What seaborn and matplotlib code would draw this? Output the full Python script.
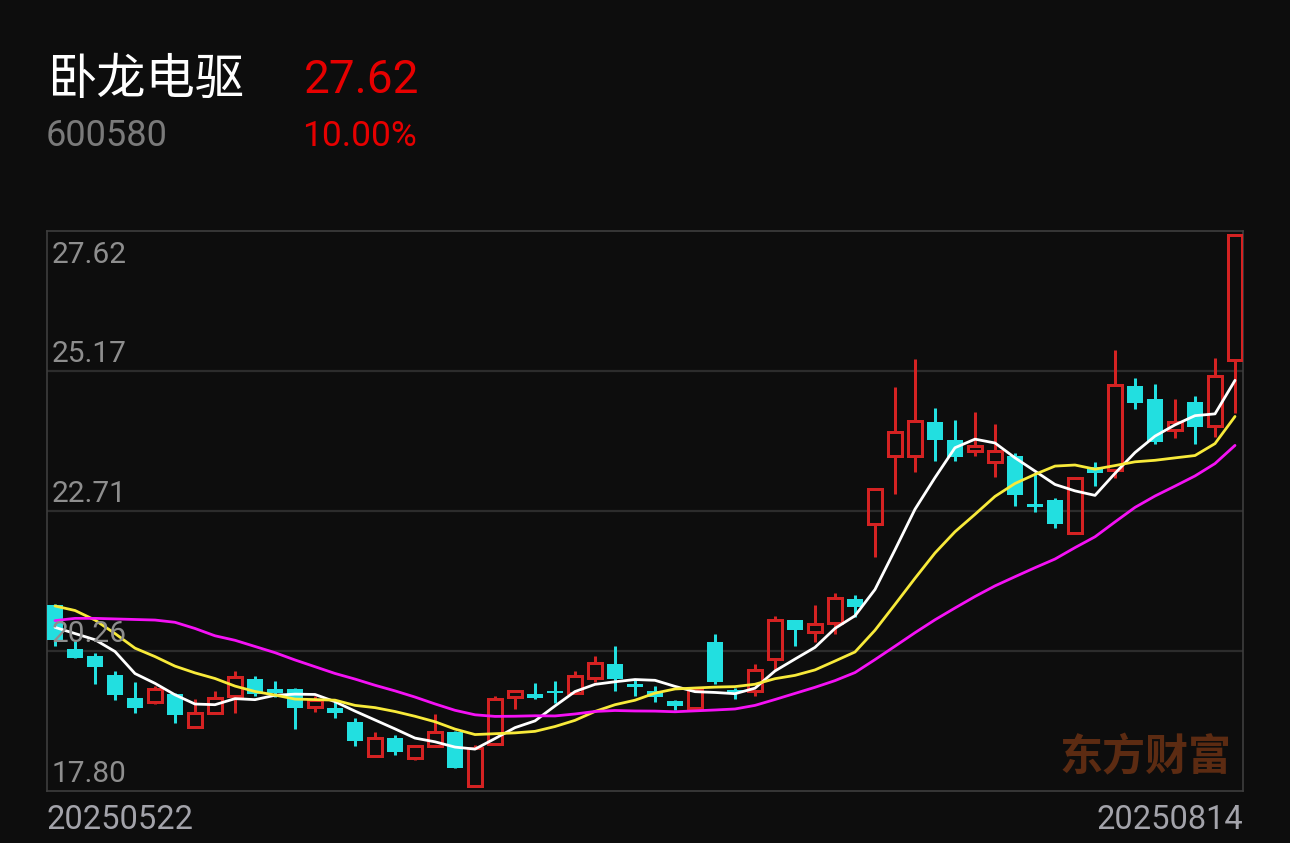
import numpy as np
import pandas as pd
import matplotlib
matplotlib.use("Agg")
import matplotlib.pyplot as plt
import seaborn as sns

# ---------------- data ----------------
stock_name = "卧龙电驱"
stock_code = "600580"
last_price = "27.62"
pct_change = "10.00%"
date_labels = ["20250522", "20250814"]
ytick_labels = ["27.62", "25.17", "22.71", "20.26", "17.80"]
price_hi = 27.62
price_lo = 17.80

opens = [21.04, 20.25, 20.13, 19.79, 19.38, 19.32, 19.45, 18.87, 19.11, 19.41,
         19.73, 19.54, 19.54, 19.23, 19.21, 18.96, 18.36, 18.67, 18.32, 18.53,
         18.77, 17.82, 18.56, 19.40, 19.45, 19.51, 19.48, 19.74, 19.99, 19.63,
         19.50, 19.33, 19.21, 20.38, 19.53, 19.51, 20.08, 20.77, 20.55, 20.71,
         21.14, 22.48, 23.68, 23.68, 24.29, 23.97, 23.77, 23.58, 23.69, 22.83,
         22.91, 22.31, 23.50, 23.44, 24.94, 24.70, 24.15, 24.65, 24.23, 25.40]
closes = [20.41, 20.10, 19.93, 19.44, 19.21, 19.54, 19.08, 19.11, 19.38, 19.75,
          19.45, 19.47, 19.21, 19.35, 19.11, 18.61, 18.68, 18.42, 18.53, 18.78,
          18.14, 18.50, 19.36, 19.50, 19.38, 19.47, 19.78, 20.00, 19.73, 19.58,
          19.40, 19.24, 19.53, 19.66, 19.47, 19.89, 20.77, 20.59, 20.70, 21.16,
          21.01, 23.11, 24.12, 24.31, 23.97, 23.67, 23.87, 23.78, 22.99, 22.79,
          22.48, 23.30, 23.38, 24.95, 24.64, 23.94, 24.30, 24.20, 25.11, 27.62]
highs = [21.06, 20.40, 20.19, 19.87, 19.66, 19.60, 19.47, 19.36, 19.51, 19.86,
         19.78, 19.69, 19.57, 19.42, 19.32, 19.02, 18.78, 18.73, 18.55, 19.09,
         18.80, 18.54, 19.42, 19.50, 19.65, 19.69, 19.86, 20.13, 20.31, 19.70,
         19.60, 19.34, 19.53, 20.53, 19.57, 19.99, 20.85, 20.77, 21.04, 21.26,
         21.22, 23.11, 24.92, 25.41, 24.55, 24.33, 24.48, 24.25, 23.74, 23.38,
         22.95, 23.30, 23.59, 25.57, 25.08, 24.97, 24.70, 24.76, 25.43, 27.62]
lows = [20.30, 20.10, 19.63, 19.35, 19.12, 19.27, 18.94, 18.87, 19.11, 19.12,
        19.41, 19.40, 18.84, 19.13, 19.03, 18.53, 18.34, 18.37, 18.28, 18.51,
        18.14, 17.80, 18.56, 19.18, 19.36, 19.29, 19.48, 19.67, 19.51, 19.41,
        19.32, 19.17, 19.21, 19.63, 19.36, 19.41, 19.88, 20.31, 20.38, 20.53,
        20.82, 21.89, 23.01, 23.40, 23.60, 23.60, 23.69, 23.32, 22.80, 22.69,
        22.40, 22.31, 23.15, 23.29, 24.52, 23.90, 24.00, 23.90, 24.03, 24.46]

# moving-average values at the start of the window (history before 2025-05-22)
ma5_head = [20.64, 20.53, 20.42, 20.21]
ma10_head = [21.02, 20.94, 20.77, 20.53, 20.27, 20.12, 19.95, 19.83, 19.73]
ma20_head = [20.76, 20.80, 20.80, 20.79, 20.78, 20.77, 20.73, 20.62, 20.49, 20.41,
             20.30, 20.19, 20.06, 19.94, 19.82, 19.72, 19.61, 19.51, 19.40]

# ---------------- styling ----------------
BG = "#0d0d0d"
RED = "#d42222"
CYAN = "#22dfe0"
MA_COLORS = {"MA5": "#ffffff", "MA10": "#f8ea3a", "MA20": "#f511f5"}

sns.set_theme(style="dark")
plt.rcParams["font.family"] = ["Roboto", "Noto Sans CJK SC", "DejaVu Sans"]
plt.rcParams["axes.unicode_minus"] = False

W, H = 1290, 843
fig = plt.figure(figsize=(W / 100, H / 100), dpi=100, facecolor=BG)
ax = fig.add_axes([47 / W, 52 / H, 1196 / W, 560 / H])
ax.set_facecolor(BG)

n = len(closes)
x = np.arange(n)
o = np.array(opens); c = np.array(closes); hi = np.array(highs); lo = np.array(lows)
up = c >= o

# moving averages
s = pd.Series(c)
ma5 = s.rolling(5).mean().to_numpy(); ma5[:4] = ma5_head
ma10 = s.rolling(10).mean().to_numpy(); ma10[:9] = ma10_head
ma20 = s.rolling(20).mean().to_numpy(); ma20[:19] = ma20_head
df_ma = pd.concat([
    pd.DataFrame({"idx": x, "value": ma5, "ma": "MA5"}),
    pd.DataFrame({"idx": x, "value": ma10, "ma": "MA10"}),
    pd.DataFrame({"idx": x, "value": ma20, "ma": "MA20"}),
])

# candles
body_lo = np.minimum(o, c)
body_hi = np.maximum(o, c)
body_h = np.maximum(body_hi - body_lo, 0.045)
lw_px = 3 * 72 / 100

# down candles (filled cyan), full wick behind
ax.vlines(x[~up], lo[~up], hi[~up], color=CYAN, linewidth=lw_px, zorder=2)
ax.bar(x[~up], body_h[~up], bottom=body_lo[~up], width=0.83, color=CYAN,
       linewidth=0, zorder=3)
# up candles (hollow red)
ax.vlines(x[up], body_hi[up], hi[up], color=RED, linewidth=lw_px, zorder=2)
ax.vlines(x[up], lo[up], body_lo[up], color=RED, linewidth=lw_px, zorder=2)
ax.bar(x[up], body_h[up], bottom=body_lo[up], width=0.69, fill=False,
       edgecolor=RED, linewidth=lw_px, zorder=3)

sns.lineplot(data=df_ma, x="idx", y="value", hue="ma", palette=MA_COLORS,
             linewidth=2.0, legend=False, ax=ax, zorder=4)

# axes limits / grid
pad = (price_hi - price_lo) * 4 / 552
ymin, ymax = price_lo - pad, price_hi + pad
ax.set_xlim(-0.4, n - 0.6)
ax.set_ylim(ymin, ymax)
ax.set_yticks([ymin + f * (ymax - ymin) for f in (0.25, 0.5, 0.75)])
ax.set_xticks([])
ax.tick_params(left=False, labelleft=False, bottom=False, labelbottom=False)
ax.grid(axis="y", color="#2c2c2c", linewidth=1.6)
ax.grid(axis="x", visible=False)
ax.set_xlabel(""); ax.set_ylabel("")
for sp in ax.spines.values():
    sp.set_visible(True)
    sp.set_color("#3e3e3e")
    sp.set_linewidth(1.2)

# y labels inside the plot
label_pos = [0.957, 0.781, 0.531, 0.281, 0.031]
for lab, fy in zip(ytick_labels, label_pos):
    ax.text(5 / 1196, fy, lab, transform=ax.transAxes, color="#8e8e8e",
            fontsize=21.5, va="center", ha="left", zorder=5)

# date labels
fig.text(47 / W, 1 - 820 / H, date_labels[0], color="#a3a3aa", fontsize=23.5,
         va="center", ha="left")
fig.text(1243 / W, 1 - 820 / H, date_labels[1], color="#a3a3aa", fontsize=23.5,
         va="center", ha="right")

# header
fig.text(47 / W, 1 - 80 / H, stock_name, color="white", fontsize=35.5,
         va="center", ha="left", family=["Noto Sans CJK SC", "DejaVu Sans"])
fig.text(304 / W, 1 - 80 / H, last_price, color="#e60000", fontsize=33,
         va="center", ha="left")
fig.text(46 / W, 1 - 136 / H, stock_code, color="#7a7a7a", fontsize=26,
         va="center", ha="left")
fig.text(302 / W, 1 - 136 / H, pct_change, color="#e60000", fontsize=25.5,
         va="center", ha="left")

# watermark
fig.text(1231 / W, 1 - 757 / H, "东方财富", color="#5c2b12", fontsize=31,
         fontweight="bold", va="center", ha="right",
         family=["Noto Sans CJK SC", "DejaVu Sans"])

fig.savefig("out.png", dpi=100, facecolor=BG)
